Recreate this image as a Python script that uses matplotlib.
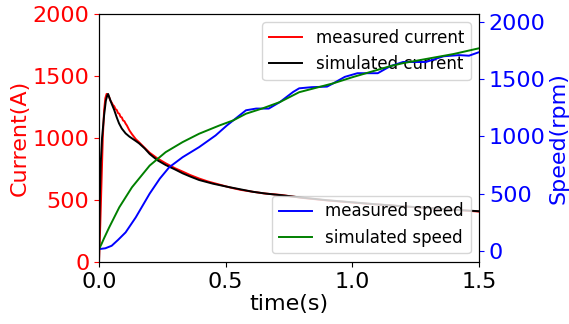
import matplotlib.pyplot as plt
import numpy as np

# measured current (A)
t_i_meas = [0, 0.005, 0.01, 0.015, 0.02, 0.025, 0.03, 0.035, 0.04, 0.045, 0.05, 0.055,
            0.06, 0.065, 0.07, 0.075, 0.08, 0.085, 0.09, 0.095, 0.10, 0.105, 0.11, 0.12,
            0.13, 0.145, 0.158, 0.18, 0.20, 0.23, 0.263, 0.30, 0.33, 0.36, 0.395, 0.43,
            0.477, 0.52, 0.56, 0.607, 0.65, 0.72, 0.80, 0.90, 1.00, 1.10, 1.20, 1.30,
            1.40, 1.50]
i_meas = [0, 300, 650, 1000, 1220, 1320, 1355, 1350, 1330, 1300, 1285, 1265,
          1255, 1232, 1225, 1200, 1195, 1170, 1165, 1140, 1135, 1115, 1100, 1060,
          1030, 990, 965, 920, 880, 835, 795, 755, 728, 700, 672, 648,
          622, 598, 580, 565, 552, 539, 516, 495, 478, 462, 447, 433,
          420, 405]

# simulated current (A)
t_i_sim = [0, 0.003, 0.007, 0.012, 0.02, 0.027, 0.033, 0.036, 0.04, 0.05, 0.06, 0.07,
           0.079, 0.09, 0.105, 0.12, 0.13, 0.145, 0.158, 0.18, 0.20, 0.23, 0.263, 0.30,
           0.33, 0.36, 0.395, 0.45, 0.505, 0.55, 0.607, 0.66, 0.72, 0.80, 0.90, 1.0,
           1.1, 1.2, 1.3, 1.4, 1.5]
i_sim = [0, 500, 800, 1000, 1180, 1300, 1345, 1354, 1330, 1275, 1225, 1165,
         1117, 1075, 1036, 1010, 996, 975, 956, 915, 870, 820, 781, 745,
         714, 688, 660, 630, 606, 588, 565, 550, 537, 518, 497, 480,
         463, 448, 434, 420, 408]

# measured speed (rpm)
t_w_meas = [0, 0.025, 0.05, 0.075, 0.105, 0.145, 0.20, 0.24, 0.277, 0.33, 0.395, 0.46,
            0.505, 0.53, 0.58, 0.62, 0.67, 0.714, 0.766, 0.79, 0.84, 0.90, 0.925, 0.97,
            1.02, 1.10, 1.15, 1.20, 1.29, 1.36, 1.42, 1.46, 1.50]
w_meas = [15, 22, 44, 95, 161, 292, 500, 631, 730, 818, 906, 1008,
          1096, 1140, 1228, 1243, 1243, 1300, 1388, 1420, 1430, 1435, 1464, 1520,
          1552, 1552, 1614, 1650, 1650, 1700, 1710, 1705, 1736]

# simulated speed (rpm)
t_w_sim = [0, 0.01, 0.02, 0.04, 0.08, 0.13, 0.20, 0.263, 0.33, 0.395, 0.476, 0.53,
           0.58, 0.646, 0.714, 0.79, 0.925, 1.0, 1.15, 1.2, 1.3, 1.4, 1.5]
w_sim = [15, 60, 110, 204, 380, 555, 745, 862, 950, 1023, 1096, 1140,
         1198, 1245, 1300, 1386, 1464, 1517, 1614, 1640, 1680, 1720, 1770]

fig = plt.figure(figsize=(5.69, 3.24), dpi=100)
ax1 = fig.add_axes([0.174, 0.192, 0.668, 0.765])

l1, = ax1.plot(t_i_meas, i_meas, color='r', lw=1.4, label='measured current')
l2, = ax1.plot(t_i_sim, i_sim, color='k', lw=1.4, label='simulated current')
ax1.set_xlim(0, 1.5)
ax1.set_ylim(0, 2000)
ax1.set_xticks([0, 0.5, 1.0, 1.5])
ax1.set_xlabel('time(s)', fontsize=16, labelpad=2)
ax1.set_ylabel('Current(A)', color='r', fontsize=16, labelpad=2)
ax1.tick_params(axis='y', colors='r', labelsize=16)
ax1.tick_params(axis='x', labelsize=16)
ax1.legend(handles=[l1, l2], loc='upper right', fontsize=12)

ax2 = ax1.twinx()
l3, = ax2.plot(t_w_meas, w_meas, color='b', lw=1.4, label='measured speed')
l4, = ax2.plot(t_w_sim, w_sim, color='g', lw=1.4, label='simulated speed')
ax2.set_ylim(-96, 2070)
ax2.set_yticks([0, 500, 1000, 1500, 2000])
ax2.set_ylabel('Speed(rpm)', color='b', fontsize=16, labelpad=2)
ax2.tick_params(axis='y', colors='b', labelsize=16)
ax2.legend(handles=[l3, l4], loc='lower right', fontsize=12)

fig.savefig('out.png', dpi=100)
